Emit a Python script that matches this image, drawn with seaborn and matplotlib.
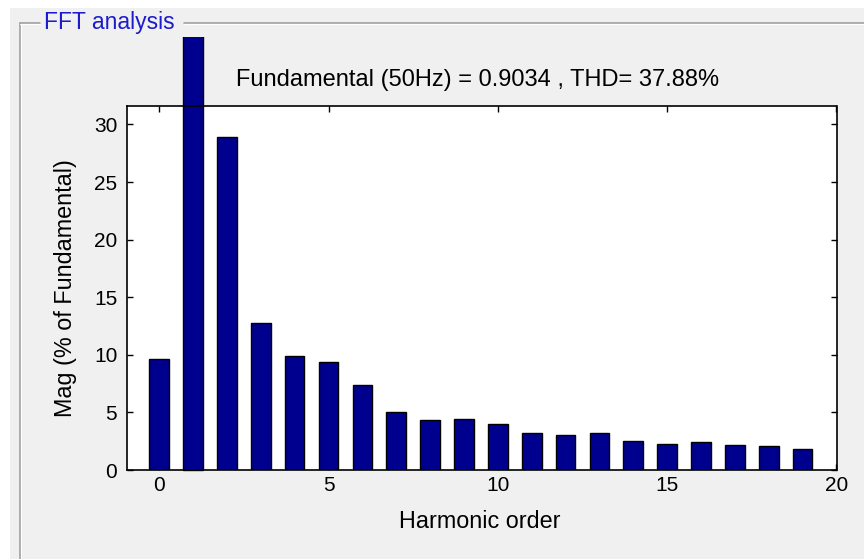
import numpy as np
import pandas as pd
import matplotlib
matplotlib.use("Agg")
import matplotlib.pyplot as plt
import seaborn as sns
from matplotlib.patches import Rectangle
from matplotlib.lines import Line2D
from matplotlib.transforms import Bbox, TransformedBbox

# ---- data ----
harmonic_order = [0, 1, 2, 3, 4, 5, 6, 7, 8, 9, 10, 11, 12, 13, 14, 15, 16, 17, 18, 19]
magnitude_pct = [9.6, 100.0, 28.95, 12.8, 9.9, 9.4, 7.4, 5.05, 4.3, 4.45,
                 4.0, 3.2, 3.05, 3.2, 2.5, 2.3, 2.45, 2.15, 2.1, 1.85]
x_ticks = [0, 5, 10, 15, 20]
y_ticks = [0, 5, 10, 15, 20, 25, 30]
title_text = "Fundamental (50Hz) = 0.9034 , THD= 37.88%"
panel_title = "FFT analysis"
x_label = "Harmonic order"
y_label = "Mag (% of Fundamental)"

df = pd.DataFrame({"order": harmonic_order, "mag": magnitude_pct})

sns.set_theme(style="white")
plt.rcParams['font.family'] = ['Liberation Sans', 'DejaVu Sans']

W, H = 864, 559
fig = plt.figure(figsize=(W / 100, H / 100), dpi=100, facecolor="white")

# gray panel background
fig.patches.append(Rectangle((10 / W, 0), 1 - 10 / W, 1 - 8 / H, transform=fig.transFigure,
                             facecolor="#f0f0f0", edgecolor="none", zorder=-10))
# etched frame
fy = 1 - 23 / H
fx = 20 / W
for xs, ys in [([fx, fx], [0, fy]), ([fx, 40 / W], [fy, fy]), ([184 / W, 1], [fy, fy])]:
    fig.lines.append(Line2D(xs, ys, transform=fig.transFigure, color="#a0a0a0", lw=1.2))
    fig.lines.append(Line2D([v + 1.2 / W for v in xs] if xs[0] == xs[1] else xs,
                            [v - 1.2 / H for v in ys] if ys[0] == ys[1] else ys,
                            transform=fig.transFigure, color="#ffffff", lw=0.8))
fig.text(44 / W, fy, panel_title, color="#1c1ccc", fontsize=16.5, ha="left", va="center")

left, right, top, bottom = 127, 836.5, 106, 470
ax = fig.add_axes([left / W, 1 - bottom / H, (right - left) / W, (bottom - top) / H])
ax.set_facecolor("white")

sns.barplot(data=df, x="order", y="mag", native_scale=True, color="#00008f",
            saturation=1, edgecolor="black", linewidth=1.0, width=0.58, ax=ax)

ax.set_xlim(-0.95, 20)
ax.set_ylim(0, 31.6)
ax.set_xticks(x_ticks)
ax.set_yticks(y_ticks)
ax.set_xticklabels([str(t) for t in x_ticks])
ax.set_yticklabels([str(t) for t in y_ticks])

# fundamental bar extends above the axes, clipped by the panel
clip_bb = TransformedBbox(Bbox([[0, 0], [1, 1 - 37 / H]]), fig.transFigure)
for p in ax.patches:
    if p.get_height() > 50:
        p.set_clip_path(None)
        p.set_clip_box(clip_bb)
        p.set_clip_on(True)

for s in ax.spines.values():
    s.set_visible(True)
    s.set_color("black")
    s.set_linewidth(1.2)
ax.tick_params(direction="in", length=4.5, width=1.0, colors="black",
               top=True, right=True, bottom=True, left=True, labelsize=15)
ax.tick_params(axis="x", pad=4.5)
ax.tick_params(axis="y", pad=7)

ax.set_xlabel(x_label, fontsize=16.8, color="black", va="baseline")
ax.xaxis.set_label_coords((480 - left) / (right - left), -(528 - bottom) / (bottom - top))
ax.set_ylabel(y_label, fontsize=16.8, color="black", va="center")
ax.yaxis.set_label_coords(-(left - 66) / (right - left), 0.5)

ax.text((478 - left) / (right - left), 1 + (top - 86) / (bottom - top), title_text,
        transform=ax.transAxes, ha="center", va="baseline", fontsize=17, color="black")

fig.savefig("out.png", dpi=100, facecolor=fig.get_facecolor())
